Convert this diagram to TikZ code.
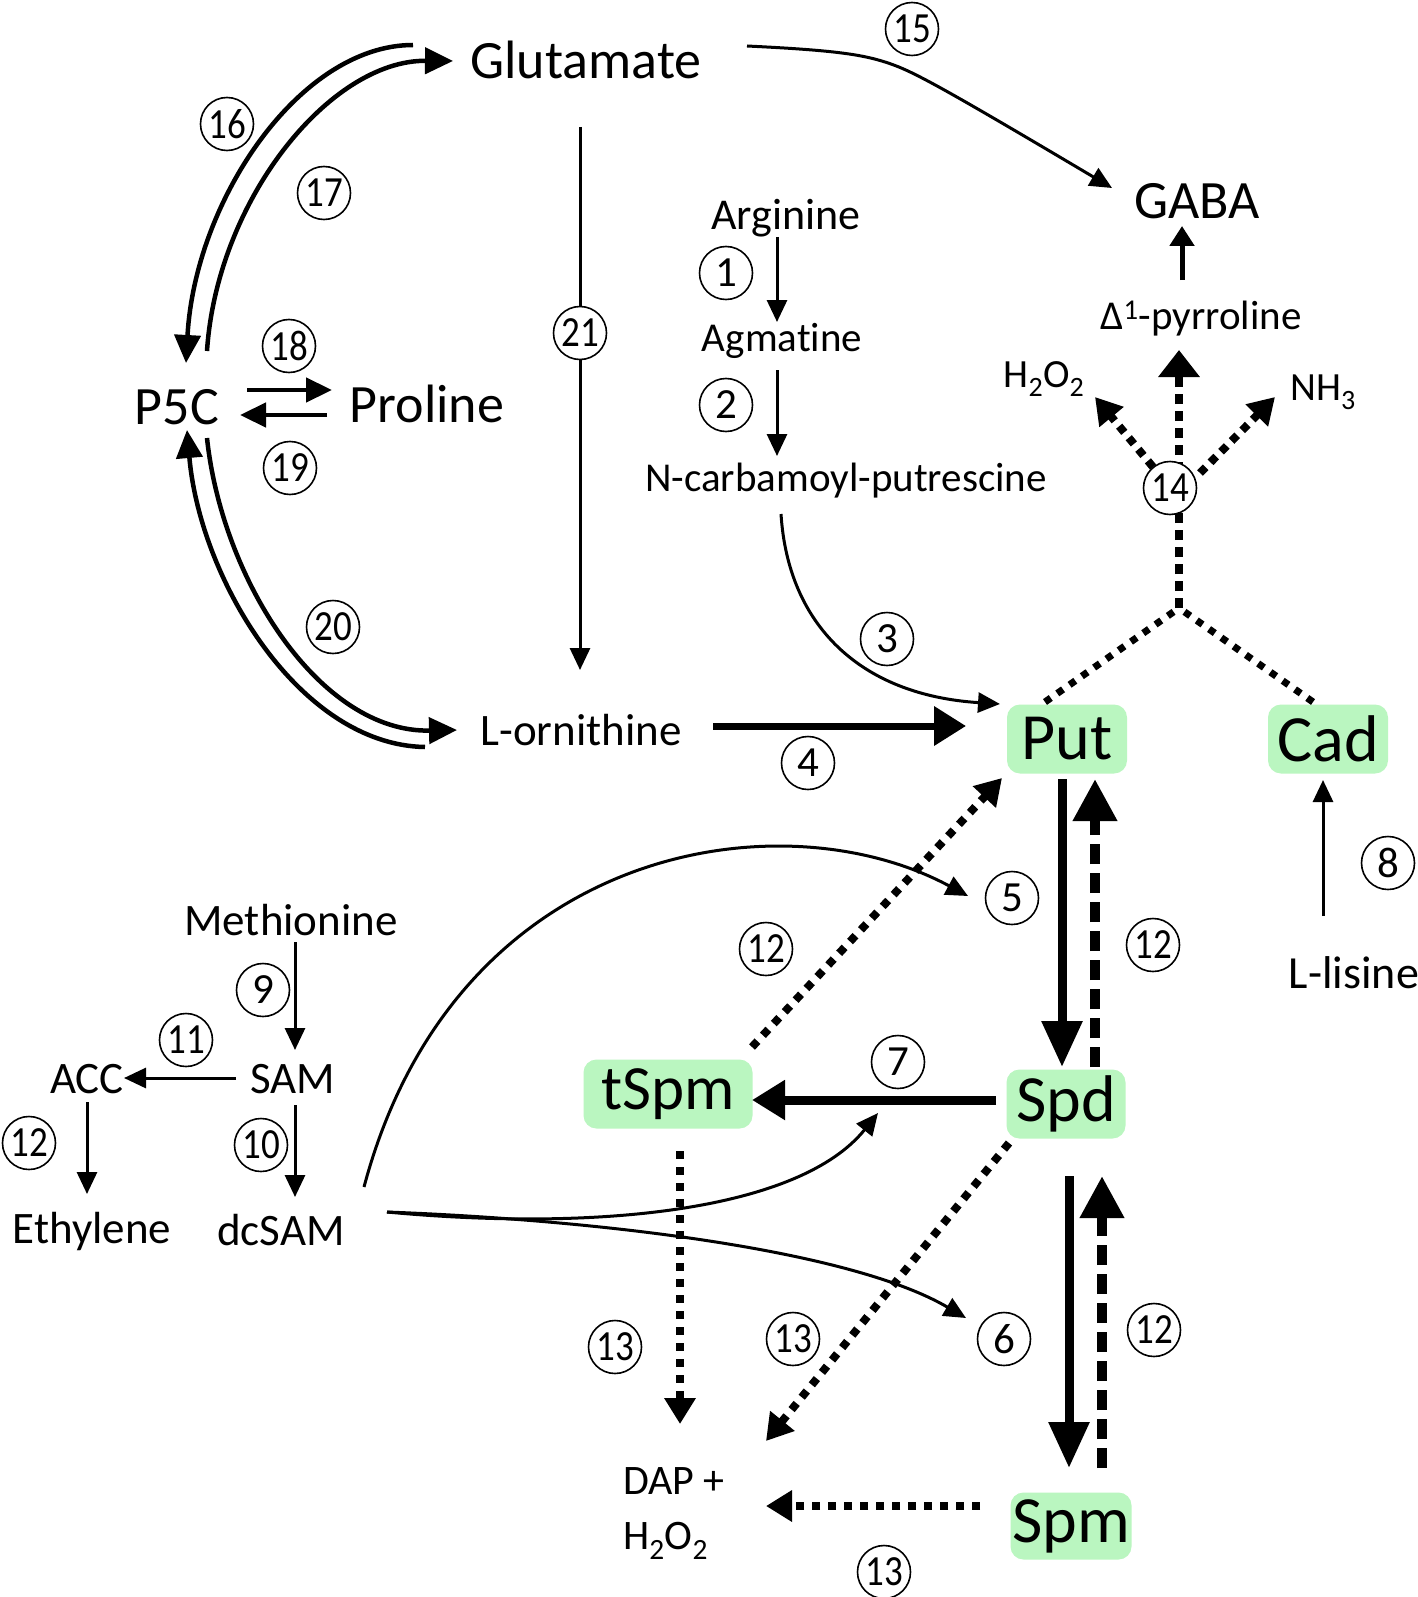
\documentclass[tikz,border=0pt]{standalone}
\usepackage{fontspec}
\usepackage{graphicx}
\setmainfont{Carlito}[Ligatures=NoCommon]
\usetikzlibrary{arrows.meta}
\definecolor{boxgreen}{RGB}{186,246,192}
\newcommand{\fsz}[1]{\fontsize{#1}{#1}\selectfont}
\newcommand{\cn}[1]{\scalebox{0.86}[1]{#1}}
\begin{document}
\begin{tikzpicture}[x=1pt,y=-1pt,
 txt/.style={anchor=base,inner sep=0pt,font=\fsz{45}},
 big/.style={txt,font=\fsz{54}},
 mid/.style={txt,font=\fsz{41}},
 gbox/.style={fill=boxgreen,rounded corners=13pt,inner sep=0pt,minimum height=69pt,font=\fsz{66}},
 circ/.style={circle,draw,line width=1.6pt,fill=white,inner sep=0pt,minimum size=53pt,font=\fsz{43}},
 thinarr/.style={line width=3pt,-{Triangle[length=22pt,width=20pt]}},
 dblarr/.style={line width=4.5pt,-{Triangle[length=28pt,width=26pt]}},
 thickarr/.style={line width=9pt,-{Triangle[length=46pt,width=39pt]}},
 dotarr/.style={line width=8pt,dash pattern=on 8pt off 8pt,-{Triangle[length=26pt,width=30pt]}},
 dotline/.style={line width=7pt,dash pattern=on 7pt off 8pt},
 dasharr/.style={line width=10pt,dash pattern=on 20pt off 9pt,-{Triangle[length=42pt,width=42pt]}},
]
\fill[white] (0,0) rectangle (1417,1597);
\useasboundingbox (0,0) rectangle (1417,1597);

% ---- text nodes ----
\node[big] (glu) at (586,79) {Glutamate};
\node[big] (gaba) at (1197,219) {GABA};
\node[txt,font=\fsz{44}] (arg) at (786,230) {Arginine};
\node[mid] (agm) at (782,351) {Agmatine};
\node[mid] (ncp) at (846,491) {N-carbamoyl-putrescine};
\node[mid] (pyr) at (1201,329) {Δ\textsuperscript{1}-pyrroline};
\node[txt,font=\fsz{40}] (hoa) at (1044,387) {H\textsubscript{2}O\textsubscript{2}};
\node[txt,font=\fsz{40}] (nh3) at (1323,400) {NH\textsubscript{3}};
\node[big] (p5c) at (177,424) {P5C};
\node[big] (pro) at (427,422) {Proline};
\node[txt] (orn) at (581,745) {L-ornithine};
\node[txt,font=\fsz{46}] (lis) at (1354,988) {L-lisine};
\node[txt] (met) at (291,935) {Methionine};
\node[txt] (sam) at (293,1093) {SAM};
\node[txt] (acc) at (87,1093) {ACC};
\node[txt] (eth) at (92,1243) {Ethylene};
\node[txt] (dcsam) at (281,1245) {dcSAM};
\node[anchor=north west,inner sep=0pt,align=left,font=\fontsize{42}{55}\selectfont] (dap) at (623,1467) {DAP +\\H\textsubscript{2}O\textsubscript{2}};

% ---- green boxes ----
\node[gbox,minimum width=120pt] (put) at (1067,739) {Put};
\node[gbox,minimum width=120pt] (cad) at (1328,739) {Cad};
\node[gbox,minimum width=169pt,font=\fsz{63}] (tspm) at (668,1094) {tSpm};
\node[gbox,minimum width=119pt] (spd) at (1066,1104) {Spd};
\node[gbox,minimum width=121pt,minimum height=67pt] (spm) at (1071,1526) {Spm};

% ---- connectors ----
\draw[thinarr] (777,237) -- (777,322);
\draw[thinarr] (777,370) -- (777,456);
\draw[thinarr] (781,514) .. controls (788,625) and (860,695) .. (1000,704);
\draw[line width=7pt,-{Triangle[length=32pt,width=38pt]}] (713,726) -- (966,726);
\draw[thinarr] (747,46) .. controls (830,50) and (860,54) .. (885,62) .. controls (910,70) and (930,80) .. (1112,188);
\draw[line width=5pt,-{Triangle[length=20pt,width=24pt]}] (1182,280) -- (1182,226);

% P5C cycle
\draw[dblarr] (413,45) .. controls (300,45) and (195,200) .. (186,363);
\draw[dblarr] (207,351) .. controls (217,200) and (330,60) .. (453,61);
\draw[line width=4.5pt,-{Triangle[length=26pt,width=24pt]}] (247,390) -- (332,390);
\draw[line width=4.5pt,-{Triangle[length=26pt,width=24pt]}] (327,415) -- (240,415);
\draw[dblarr] (425,747) .. controls (300,745) and (200,580) .. (187,430);
\draw[dblarr] (207,438) .. controls (222,580) and (320,733) .. (457,730);
\draw[line width=3pt,-{Triangle[length=22pt,width=20pt]}] (580,127) -- (580,670);

% methionine branch
\draw[thinarr] (295,942) -- (295,1050);
\draw[thinarr] (295,1105) -- (295,1197);
\draw[thinarr] (236,1078) -- (124,1078);
\draw[thinarr] (87,1102) -- (87,1194);

% cadaverine
\draw[thinarr] (1323,916) -- (1323,780);

% dcSAM curves
\draw[thinarr] (364,1187) .. controls (455,845) and (780,795) .. (968,896);
\draw[thinarr] (387,1212) .. controls (600,1232) and (800,1210) .. (878,1113);
\draw[thinarr] (387,1212) .. controls (600,1220) and (850,1250) .. (966,1318);

% polyamine interconversion
\draw[thickarr] (1062,779) -- (1062,1067);
\draw[dasharr] (1095,1067) -- (1095,779);
\draw[thickarr] (1069,1176) -- (1069,1468);
\draw[dasharr] (1102,1468) -- (1102,1176);
\draw[line width=9pt,-{Triangle[length=33pt,width=38pt]}] (996,1100) -- (752,1100);
\draw[dotarr] (752,1047) -- (1002,778);
\draw[dotarr] (1009,1143) -- (766,1441);
\draw[dotarr] (680,1151) -- (680,1424);
\draw[dotarr] (980,1506) -- (766,1506);

% oxidation (14)
\coordinate (jn) at (1179,608);
\draw[dotline] (1045,702) -- (jn);
\draw[dotline] (1313,702) -- (jn);
\draw[line width=8pt,dash pattern=on 10pt off 7pt,-{Triangle[length=27pt,width=40pt]}] (jn) -- (1179,350);
\draw[line width=8pt,dash pattern=on 8pt off 7pt,-{Triangle[length=26pt,width=30pt]}] (1153,467) -- (1095,397);
\draw[line width=8pt,dash pattern=on 8pt off 7pt,-{Triangle[length=26pt,width=30pt]}] (1200,473) -- (1275,397);

% ---- circled numbers ----
\node[circ] (c15) at (912,29) {\cn{15}};
\node[circ] (c16) at (227,124) {\cn{16}};
\node[circ] (c17) at (324,193) {\cn{17}};
\node[circ] (c18) at (289,346) {\cn{18}};
\node[circ] (c19) at (290,468) {\cn{19}};
\node[circ] (c21) at (580,333) {\cn{21}};
\node[circ] (c1) at (726,273) {1};
\node[circ] (c2) at (726,405) {2};
\node[circ] (c14) at (1170,488) {\cn{14}};
\node[circ] (c3) at (887,639) {3};
\node[circ] (c20) at (333,627) {\cn{20}};
\node[circ] (c4) at (808,763) {4};
\node[circ] (c5) at (1012,898) {5};
\node[circ] (c12a) at (766,949) {\cn{12}};
\node[circ] (c12b) at (1153,945) {\cn{12}};
\node[circ] (c8) at (1388,863) {8};
\node[circ] (c9) at (263,990) {9};
\node[circ] (c11) at (186,1040) {\cn{11}};
\node[circ] (c10) at (261,1145) {\cn{10}};
\node[circ] (c12c) at (29,1143) {\cn{12}};
\node[circ] (c7) at (898,1062) {7};
\node[circ] (c13a) at (615,1347) {\cn{13}};
\node[circ] (c13b) at (793,1339) {\cn{13}};
\node[circ] (c6) at (1004,1339) {6};
\node[circ] (c12d) at (1154,1330) {\cn{12}};
\node[circ] (c13c) at (884,1572) {\cn{13}};
\end{tikzpicture}
\end{document}
